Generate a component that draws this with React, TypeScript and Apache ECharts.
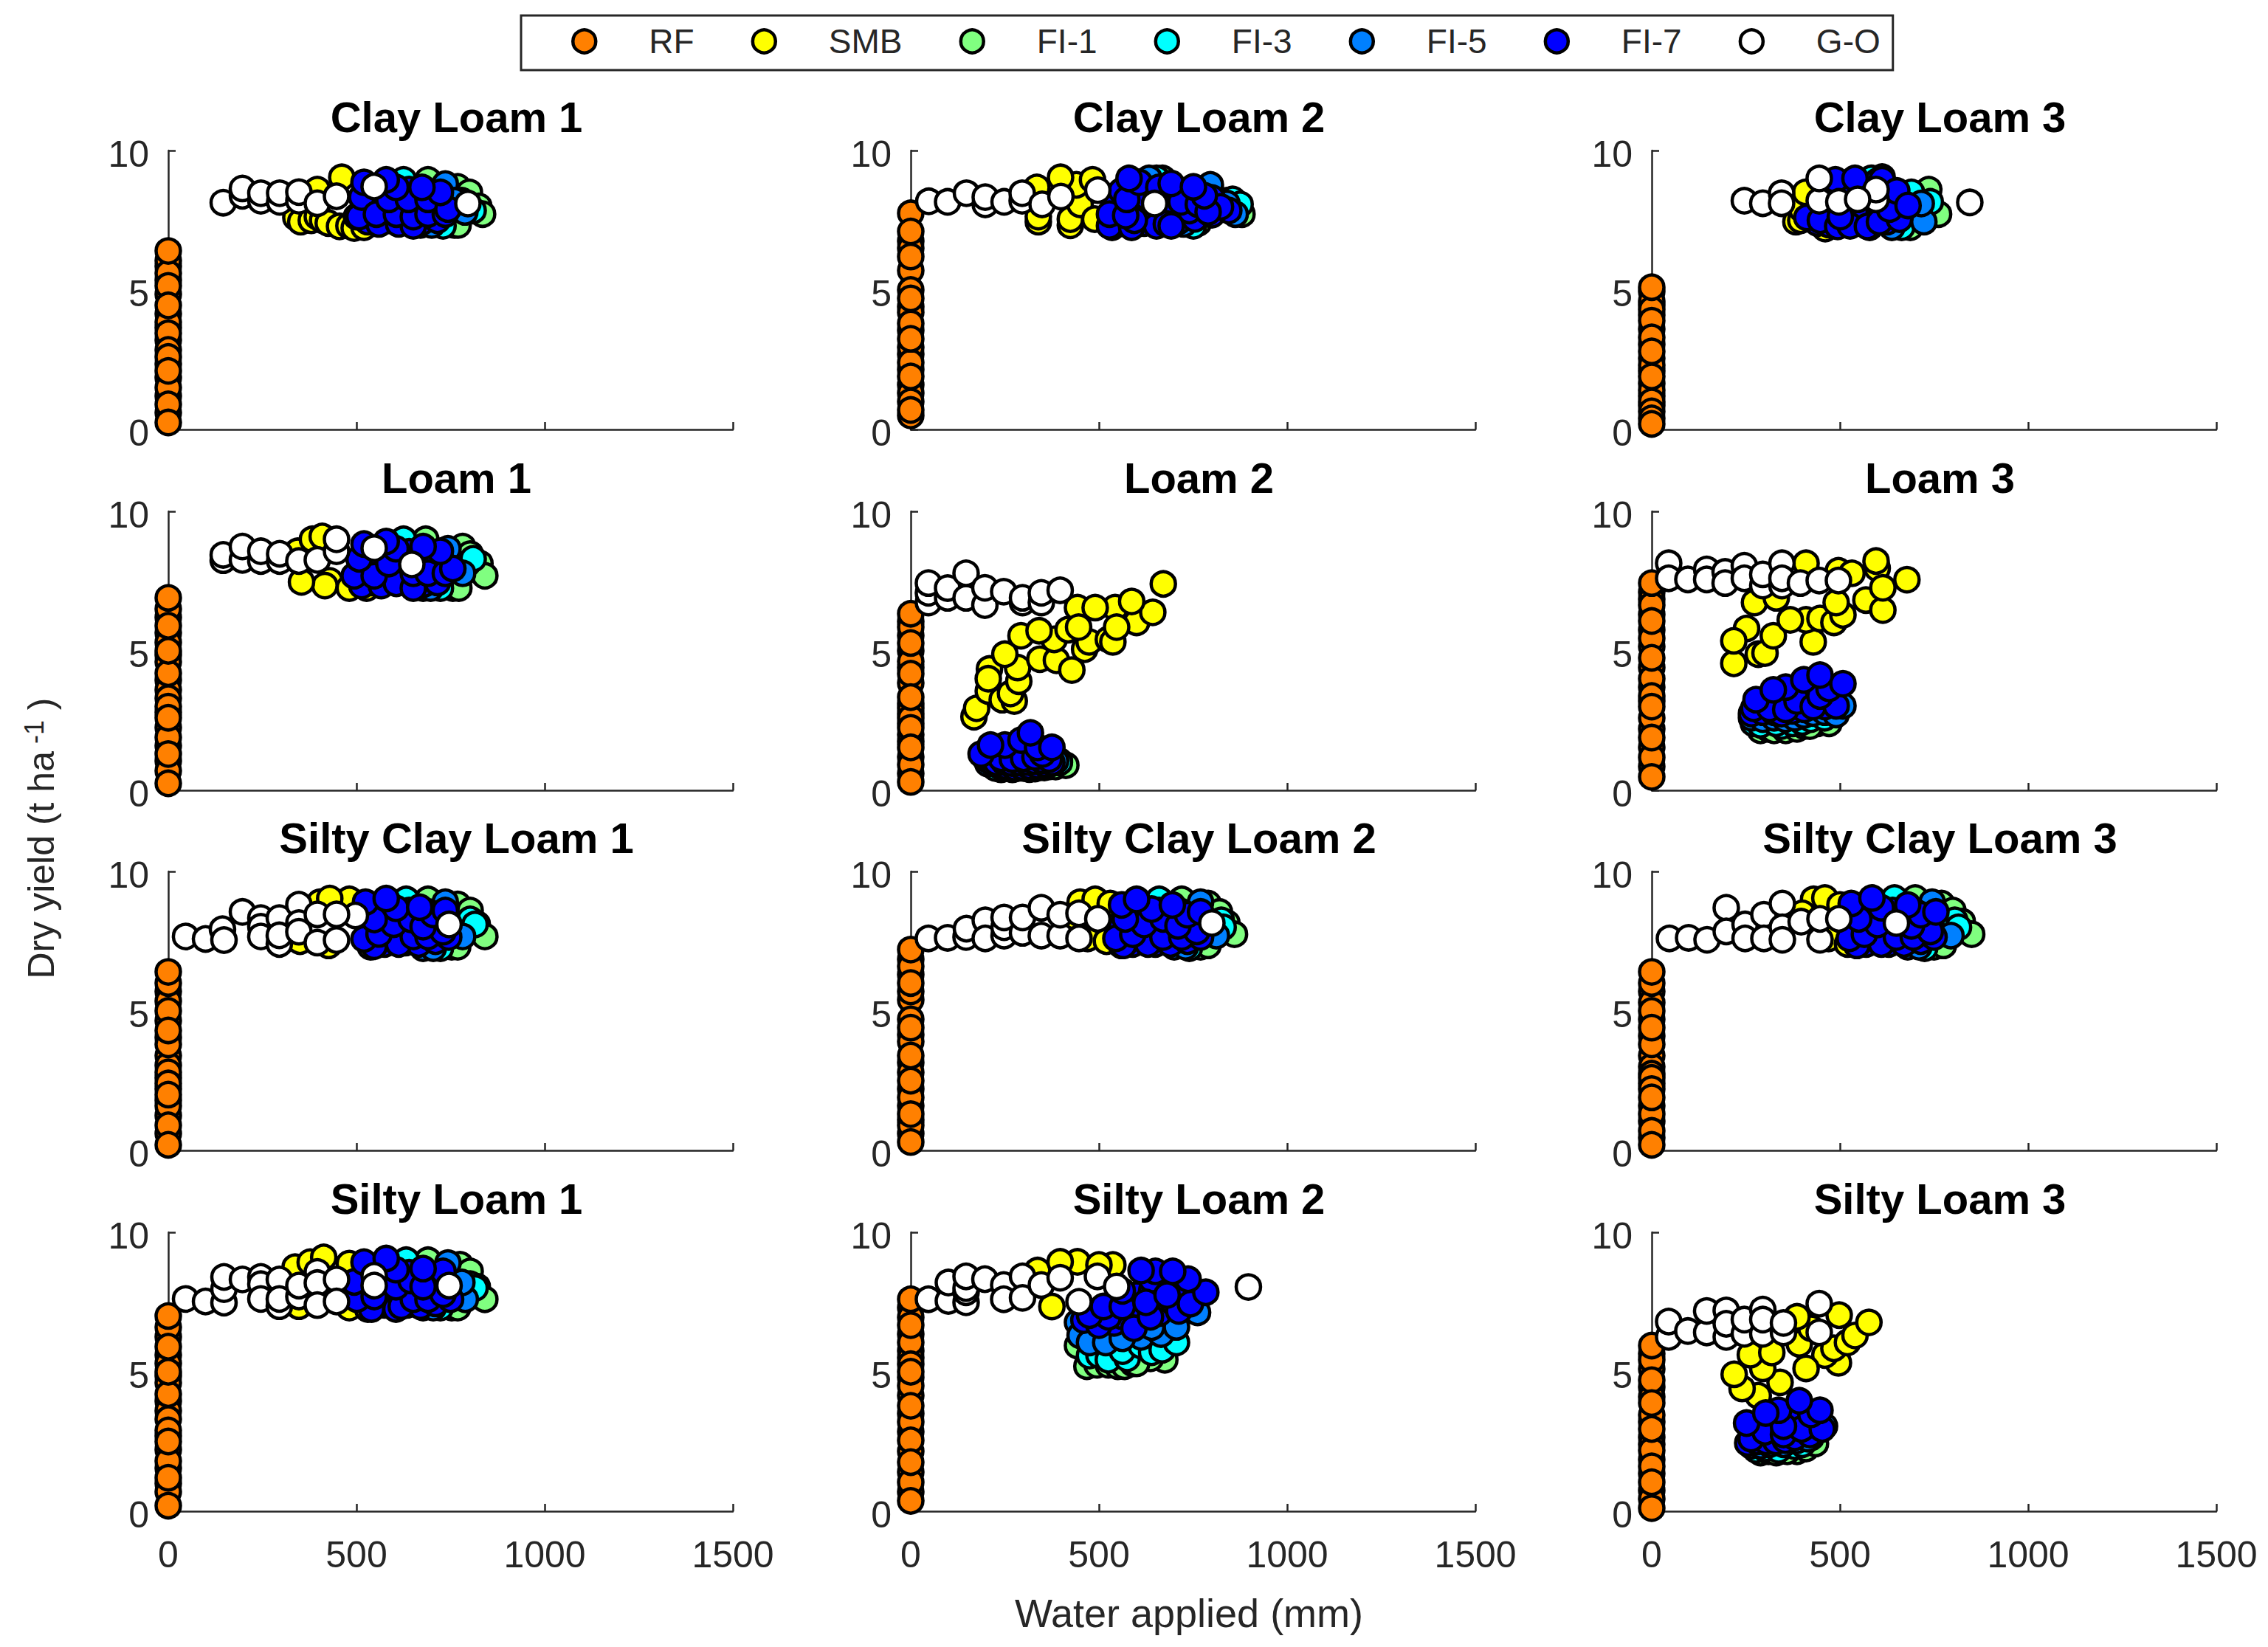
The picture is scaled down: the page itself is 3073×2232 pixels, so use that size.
import React, { useEffect, useRef } from "react";
import * as echarts from "echarts";

type P = number[][];

const seriesNames = ["RF", "SMB", "FI-1", "FI-3", "FI-5", "FI-7", "G-O"];
const seriesColors = ["#ff8000", "#ffff00", "#80ff80", "#00ffff", "#0080ff", "#0000ff", "#ffffff"];
const panelTitles = [
  "Clay Loam 1", "Clay Loam 2", "Clay Loam 3",
  "Loam 1", "Loam 2", "Loam 3",
  "Silty Clay Loam 1", "Silty Clay Loam 2", "Silty Clay Loam 3",
  "Silty Loam 1", "Silty Loam 2", "Silty Loam 3",
];
const xTicks = [0, 500, 1000, 1500];
const yTicks = [0, 5, 10];

// Clay Loam 1
const cl1_rf = [5.85, 5.35, 4.85, 4.15, 3.65, 3.2, 2.35, 1.85, 1.2, 0.6, 6.05, 5.6, 3.85, 3.45, 2.85, 2.6, 1.5, 0.9, 6.4, 5.15, 4.45, 2.1, 0.25];
const cl1_smb: P = [[339, 7.6], [352, 7.45], [380, 7.5], [396, 7.63], [396, 8.6], [410, 7.5], [425, 7.4], [455, 7.28], [480, 7.3], [494, 7.22], [461, 9.04], [520, 7.25]];
const cl1_fi1: P = [[690, 8.95], [769, 8.7], [800, 8.5], [825, 8.0], [760, 7.33], [770, 7.33], [700, 7.5], [835, 7.72]];
const cl1_fi3: P = [[625, 8.95], [730, 7.3], [780, 8.2], [810, 7.85], [660, 7.5]];
const cl1_fi5: P = [[736, 8.8], [788, 7.8], [670, 7.33], [700, 7.33], [620, 7.6], [760, 8.2]];
const cl1_fi7: P = [[530, 7.45], [585, 7.5], [630, 7.45], [675, 7.45], [715, 7.5], [535, 8.05], [570, 7.95], [620, 8.0], [665, 7.95], [710, 7.95], [550, 8.55], [640, 8.6], [690, 8.45], [500, 7.63], [560, 7.37], [612, 7.37], [651, 7.3], [507, 7.63], [514, 8.33], [553, 7.72], [606, 7.72], [651, 7.63], [690, 7.72], [736, 7.72], [586, 8.25], [638, 8.25], [690, 8.25], [743, 7.9], [520, 8.86], [605, 8.68], [723, 8.5], [579, 8.95], [674, 8.68]];
const cl1_go: P = [[146, 8.13], [197, 8.38], [197, 8.64], [246, 8.2], [246, 8.47], [296, 8.16], [296, 8.47], [347, 8.2], [347, 8.51], [396, 8.11], [447, 8.36], [547, 8.71], [796, 8.1]];

// Clay Loam 2
const cl2_rf = [6.75, 6.5, 5.7, 4.4, 4.2, 3.55, 2.7, 2.15, 1.6, 1.3, 7.75, 7.1, 5.0, 4.7, 3.8, 2.95, 2.4, 1.0, 0.5, 6.2, 3.25, 1.9, 0.7];
const cl2_smb: P = [[335, 8.68], [339, 7.45], [339, 7.63], [424, 7.32], [424, 7.54], [450, 8.07], [440, 8.77], [489, 7.54], [535, 7.25], [398, 9.04], [483, 8.95]];
const cl2_fi1: P = [[669, 9.0], [880, 7.72], [764, 7.4], [840, 8.2]];
const cl2_fi3: P = [[653, 9.0], [855, 8.25], [875, 8.07], [751, 7.3]];
const cl2_fi5: P = [[633, 9.0], [862, 7.72], [796, 8.77], [725, 7.37], [840, 8.1]];
const cl2_fi7: P = [[555, 7.45], [620, 7.4], [660, 7.5], [710, 7.45], [755, 7.55], [800, 7.7], [620, 7.95], [675, 7.95], [740, 7.85], [540, 8.1], [625, 8.35], [700, 8.5], [800, 8.3], [845, 7.85], [560, 8.55], [528, 7.3], [587, 7.25], [653, 7.3], [679, 7.37], [692, 7.3], [528, 7.72], [594, 7.5], [571, 7.67], [574, 8.25], [718, 8.16], [764, 8.07], [823, 7.98], [790, 7.8], [780, 8.38], [607, 8.86], [659, 8.68], [692, 8.82], [751, 8.7], [580, 9.0]];
const cl2_go: P = [[48, 8.18], [98, 8.16], [148, 8.47], [198, 8.07], [198, 8.33], [248, 8.16], [296, 8.2], [296, 8.47], [349, 8.07], [399, 8.35], [497, 8.58], [648, 8.1]];

// Clay Loam 3
const cl3_rf = [4.95, 4.45, 4.1, 3.6, 3.05, 2.55, 2.1, 1.65, 1.2, 0.85, 4.6, 4.3, 3.9, 3.3, 2.3, 1.4, 1.0, 0.65, 0.4, 5.1, 2.8, 1.9, 0.2];
const cl3_smb: P = [[383, 7.45], [396, 7.5], [399, 7.9], [461, 7.2], [409, 8.5]];
const cl3_fi1: P = [[612, 9.05], [736, 8.6], [687, 7.25], [762, 7.72]];
const cl3_fi3: P = [[583, 9.0], [690, 8.5], [740, 8.16], [664, 7.25]];
const cl3_fi5: P = [[723, 7.45], [716, 8.1], [638, 7.25], [600, 8.9]];
const cl3_fi7: P = [[440, 7.4], [470, 7.35], [520, 7.5], [555, 7.45], [590, 7.6], [625, 7.45], [470, 7.75], [540, 7.8], [610, 7.8], [660, 7.8], [500, 8.4], [560, 8.45], [625, 8.3], [412, 7.6], [448, 7.5], [494, 7.28], [527, 7.3], [501, 7.63], [579, 7.25], [573, 7.28], [605, 7.45], [658, 7.54], [632, 7.9], [488, 8.95], [612, 8.95], [651, 8.55], [681, 8.03], [540, 9.0]];
const cl3_go: P = [[246, 8.2], [295, 8.11], [345, 8.47], [345, 8.11], [445, 8.2], [445, 9.0], [497, 8.16], [596, 8.25], [596, 8.6], [547, 8.25], [845, 8.14]];

// Loam 1
const l1_rf = [6.2, 5.65, 5.3, 4.85, 3.95, 3.6, 2.8, 2.25, 1.6, 1.05, 6.5, 5.9, 4.6, 4.2, 3.3, 3.0, 1.9, 0.7, 6.9, 5.0, 2.6, 1.3, 0.25];
const l1_smb: P = [[344, 8.57], [383, 9.0], [409, 9.1], [429, 7.51], [416, 7.34], [481, 7.25], [527, 7.25], [354, 7.47]];
const l1_fi1: P = [[684, 9.0], [782, 8.74], [802, 8.47], [828, 8.13], [756, 7.25], [772, 7.25], [841, 7.69]];
const l1_fi3: P = [[625, 9.0], [795, 8.13], [810, 8.3], [723, 7.25]];
const l1_fi5: P = [[743, 8.66], [782, 7.78], [677, 7.25], [697, 7.25], [640, 7.6]];
const l1_fi7: P = [[540, 7.45], [590, 7.5], [630, 7.45], [680, 7.4], [715, 7.45], [530, 8.0], [565, 7.95], [625, 8.0], [670, 8.0], [715, 8.1], [550, 8.5], [640, 8.55], [700, 8.35], [514, 7.34], [566, 7.34], [606, 7.42], [651, 7.25], [494, 7.69], [547, 7.69], [651, 7.78], [690, 7.78], [736, 7.78], [507, 8.3], [586, 8.13], [756, 7.95], [520, 8.83], [605, 8.66], [723, 8.57], [579, 8.92], [677, 8.74]];
const l1_go: P = [[146, 8.25], [146, 8.44], [197, 8.26], [197, 8.74], [246, 8.22], [246, 8.57], [296, 8.22], [296, 8.48], [347, 8.22], [396, 8.26], [447, 8.57], [447, 9.0], [547, 8.68], [647, 8.1]];

// Loam 2
const l2_rf = [6.05, 5.55, 5.0, 4.4, 3.85, 3.1, 2.75, 2.4, 2.0, 1.75, 1.2, 0.6, 5.85, 4.62, 4.18, 2.94, 2.59, 2.24, 0.92, 6.33, 5.28, 3.34, 1.54, 0.3];
const l2_smb: P = [[168, 2.64], [175, 2.94], [206, 3.56], [209, 4.35], [243, 3.25], [275, 3.2], [265, 3.47], [287, 3.91], [206, 4.0], [284, 4.4], [250, 4.88], [343, 4.7], [387, 4.66], [428, 4.31], [462, 5.06], [474, 5.32], [381, 5.41], [293, 5.54], [341, 5.72], [418, 5.76], [525, 5.41], [537, 5.32], [600, 6.02], [543, 6.55], [443, 6.55], [490, 6.55], [446, 5.85], [547, 5.85], [643, 6.38], [587, 6.77], [671, 7.4]];
const l2_fi1: P = [[240, 0.75], [255, 0.8], [270, 0.75], [285, 0.8], [300, 0.8], [315, 0.76], [330, 0.78], [345, 0.83], [355, 0.82], [370, 0.86], [385, 0.85], [412, 0.9], [395, 1.05], [260, 0.85], [320, 0.9]];
const l2_fi3: P = [[225, 0.8], [240, 0.85], [255, 0.82], [270, 0.88], [285, 0.85], [300, 0.9], [315, 0.85], [330, 0.92], [345, 0.9], [360, 0.92], [372, 0.95], [395, 1.0], [240, 0.95], [300, 1.0], [360, 1.05]];
const l2_fi5: P = [[205, 0.95], [220, 0.98], [235, 0.88], [250, 0.96], [265, 0.9], [280, 0.98], [295, 0.93], [310, 1.0], [325, 0.95], [340, 1.03], [355, 0.98], [370, 1.06], [385, 1.05], [215, 1.1], [280, 1.05], [340, 1.1]];
const l2_fi7: P = [[205, 1.1], [215, 1.0], [235, 0.92], [255, 0.85], [275, 0.82], [295, 0.84], [315, 0.86], [335, 0.9], [355, 0.95], [375, 1.0], [220, 1.25], [260, 1.3], [300, 1.3], [325, 1.4], [195, 1.2], [228, 1.0], [248, 1.02], [268, 0.98], [288, 1.0], [308, 1.02], [328, 1.05], [348, 1.08], [368, 1.12], [240, 1.15], [270, 1.12], [300, 1.15], [330, 1.2], [187, 1.3], [350, 1.3], [250, 1.62], [293, 1.8], [337, 1.54], [375, 1.54], [212, 1.62], [318, 2.06]];
const l2_go: P = [[47, 6.73], [47, 7.08], [47, 7.43], [98, 6.9], [98, 7.25], [147, 6.9], [147, 7.78], [197, 6.64], [197, 7.26], [247, 7.12], [297, 6.73], [297, 6.9], [347, 6.73], [347, 7.08], [397, 7.17]];

// Loam 3
const l3_rf = [7.1, 6.85, 6.3, 5.75, 5.15, 4.4, 3.7, 3.2, 2.2, 1.55, 0.85, 6.64, 5.45, 4.0, 3.38, 2.59, 1.18, 7.43, 6.07, 4.75, 3.0, 1.89, 0.48];
const l3_smb: P = [[218, 4.55], [283, 4.88], [301, 4.92], [252, 5.8], [218, 5.36], [323, 5.54], [429, 5.32], [273, 6.73], [331, 6.9], [410, 8.14], [496, 7.87], [532, 7.78], [410, 6.11], [447, 6.16], [484, 6.02], [368, 6.11], [508, 6.29], [490, 6.73], [569, 6.82], [614, 6.46], [599, 7.96], [596, 8.22], [614, 7.26], [678, 7.55]];
const l3_fi1: P = [[289, 2.15], [310, 2.2], [325, 2.15], [356, 2.15], [386, 2.2], [405, 2.3], [441, 2.4], [471, 2.4], [420, 2.3]];
const l3_fi3: P = [[270, 2.4], [289, 2.35], [344, 2.3], [374, 2.4], [400, 2.45], [423, 2.55], [459, 2.6], [330, 2.4]];
const l3_fi5: P = [[265, 2.6], [295, 2.55], [325, 2.6], [355, 2.55], [380, 2.6], [405, 2.7], [429, 2.77], [460, 2.8], [490, 2.72], [508, 3.03]];
const l3_fi7: P = [[265, 2.75], [295, 2.8], [325, 2.8], [345, 2.75], [375, 2.85], [405, 2.9], [460, 3.0], [300, 3.2], [340, 3.2], [400, 3.4], [271, 2.94], [313, 2.94], [356, 2.9], [386, 3.2], [429, 3.0], [490, 3.03], [277, 3.25], [447, 3.38], [356, 3.7], [404, 3.96], [471, 3.65], [508, 3.82], [447, 4.13], [323, 3.6]];
const l3_go: P = [[45, 8.14], [45, 7.6], [96, 7.56], [146, 7.92], [146, 7.56], [195, 7.83], [195, 7.43], [246, 8.05], [246, 7.6], [295, 7.34], [295, 7.74], [346, 7.34], [346, 8.14], [346, 7.6], [395, 7.43], [445, 7.52], [496, 7.52]];

// Silty Clay Loam 1
const scl1_rf = [5.7, 5.35, 4.65, 4.05, 3.4, 3.05, 2.6, 2.2, 1.8, 1.25, 6.0, 5.0, 3.8, 2.8, 2.4, 1.6, 0.6, 6.4, 4.3, 2.0, 0.9, 0.2];
const scl1_smb: P = [[350, 7.5], [403, 8.9], [426, 7.35], [537, 7.3], [481, 9.0], [429, 9.03]];
const scl1_fi1: P = [[690, 9.0], [769, 8.82], [802, 8.6], [821, 8.11], [753, 7.3], [769, 7.3], [841, 7.67]];
const scl1_fi3: P = [[632, 9.0], [802, 8.28], [815, 8.1], [723, 7.25]];
const scl1_fi5: P = [[736, 8.9], [782, 7.67], [677, 7.25], [704, 7.25], [640, 7.5]];
const scl1_fi7: P = [[575, 7.4], [630, 7.45], [665, 7.4], [710, 7.5], [745, 7.65], [535, 7.95], [585, 7.9], [630, 7.95], [665, 7.85], [715, 8.1], [560, 8.6], [640, 8.6], [690, 8.55], [547, 7.32], [612, 7.4], [520, 7.58], [560, 7.76], [651, 7.67], [690, 7.67], [730, 7.84], [599, 8.11], [547, 8.28], [645, 8.28], [677, 8.02], [704, 8.46], [736, 8.6], [524, 8.9], [605, 8.68], [668, 8.72], [579, 9.03]];
const scl1_go: P = [[46, 7.67], [99, 7.58], [144, 7.93], [148, 7.54], [197, 8.55], [246, 8.33], [246, 8.02], [246, 7.67], [295, 7.4], [295, 8.33], [295, 7.71], [347, 8.81], [347, 8.15], [347, 7.84], [396, 7.45], [396, 8.46], [497, 8.42], [447, 7.54], [447, 8.46], [746, 8.1]];

// Silty Clay Loam 2
const scl2_rf = [6.85, 6.3, 5.4, 4.7, 4.15, 3.15, 2.8, 2.2, 1.6, 1.1, 0.6, 6.6, 5.7, 3.9, 3.4, 1.9, 0.9, 7.2, 6.0, 4.4, 2.5, 1.3, 0.3];
const scl2_smb: P = [[430, 8.4], [450, 8.9], [470, 7.6], [520, 7.5], [560, 7.35], [490, 9.0], [530, 8.85]];
const scl2_fi1: P = [[720, 9.0], [790, 8.85], [820, 8.55], [840, 8.15], [770, 7.3], [790, 7.35], [860, 7.75]];
const scl2_fi3: P = [[660, 9.0], [825, 8.25], [830, 8.0], [740, 7.25]];
const scl2_fi5: P = [[770, 8.9], [812, 7.7], [700, 7.3], [730, 7.3], [660, 7.5]];
const scl2_fi7: P = [[590, 7.4], [650, 7.4], [690, 7.4], [735, 7.5], [770, 7.65], [560, 8.0], [610, 7.9], [650, 7.95], [690, 7.85], [740, 8.1], [590, 8.6], [660, 8.6], [720, 8.55], [565, 7.35], [630, 7.4], [545, 7.6], [590, 7.75], [670, 7.65], [720, 7.65], [760, 7.85], [620, 8.1], [570, 8.3], [670, 8.3], [710, 8.05], [735, 8.45], [770, 8.55], [560, 8.8], [640, 8.65], [695, 8.8], [600, 9.0]];
const scl2_go: P = [[47, 7.6], [98, 7.62], [147, 7.65], [148, 7.95], [198, 8.25], [198, 7.6], [248, 7.7], [248, 8.0], [248, 8.35], [297, 7.8], [297, 8.35], [347, 7.7], [347, 8.7], [397, 7.7], [397, 8.45], [447, 7.6], [447, 8.5], [497, 8.3], [800, 8.15]];

// Silty Clay Loam 3
const scl3_rf = [5.7, 5.3, 4.7, 4.1, 3.4, 3.0, 2.75, 2.4, 1.6, 1.05, 0.45, 6.0, 5.0, 3.8, 2.6, 2.2, 1.3, 0.7, 6.4, 4.4, 1.9, 0.2];
const scl3_smb: P = [[430, 9.0], [460, 9.05], [470, 7.6], [520, 7.4], [400, 8.5], [500, 8.8]];
const scl3_fi1: P = [[700, 9.05], [770, 8.85], [800, 8.6], [825, 8.2], [750, 7.3], [775, 7.35], [850, 7.75]];
const scl3_fi3: P = [[645, 9.05], [805, 8.25], [815, 8.0], [725, 7.25]];
const scl3_fi5: P = [[745, 8.9], [795, 7.7], [680, 7.3], [710, 7.3], [635, 7.5]];
const scl3_fi7: P = [[570, 7.4], [630, 7.4], [670, 7.4], [715, 7.5], [750, 7.65], [545, 8.0], [590, 7.9], [630, 7.95], [670, 7.85], [720, 8.1], [570, 8.6], [640, 8.6], [700, 8.55], [545, 7.35], [610, 7.4], [525, 7.6], [565, 7.75], [650, 7.65], [695, 7.65], [740, 7.85], [600, 8.1], [550, 8.3], [650, 8.3], [690, 8.05], [715, 8.45], [755, 8.55], [530, 8.85], [610, 8.7], [680, 8.8], [585, 9.05]];
const scl3_go: P = [[47, 7.6], [98, 7.62], [147, 7.55], [198, 8.7], [198, 7.85], [248, 8.1], [248, 7.6], [298, 8.45], [298, 7.6], [347, 8.85], [347, 8.0], [347, 7.55], [397, 8.2], [447, 7.55], [447, 8.3], [497, 8.3], [650, 8.15]];

// Silty Loam 1
const sl1_rf = [6.25, 5.6, 5.3, 4.85, 3.95, 3.6, 2.7, 2.2, 1.55, 1.0, 6.6, 5.9, 4.6, 4.2, 3.3, 2.9, 1.8, 0.7, 7.0, 5.0, 2.5, 1.2, 0.2];
const sl1_smb: P = [[347, 7.35], [337, 8.75], [377, 8.93], [481, 8.88], [481, 7.3], [530, 7.25], [413, 9.1]];
const sl1_fi1: P = [[690, 9.0], [775, 8.84], [802, 8.6], [821, 8.05], [753, 7.3], [769, 7.3], [841, 7.6]];
const sl1_fi3: P = [[632, 9.0], [802, 8.14], [815, 8.0], [723, 7.3]];
const sl1_fi5: P = [[743, 8.9], [789, 7.6], [677, 7.3], [704, 7.3], [780, 8.2]];
const sl1_fi7: P = [[575, 7.4], [635, 7.4], [670, 7.35], [710, 7.45], [750, 7.6], [530, 8.0], [585, 7.9], [630, 7.95], [665, 7.85], [715, 8.05], [555, 8.55], [640, 8.55], [700, 8.4], [540, 7.25], [605, 7.25], [619, 7.35], [501, 7.6], [547, 7.7], [651, 7.6], [690, 7.6], [730, 7.78], [494, 8.22], [605, 8.05], [645, 8.27], [677, 8.05], [730, 8.6], [520, 8.93], [605, 8.66], [677, 8.7], [579, 9.06]];
const sl1_go: P = [[46, 7.61], [99, 7.52], [148, 7.48], [148, 7.96], [148, 8.4], [197, 8.31], [246, 8.4], [246, 8.14], [246, 7.61], [295, 7.35], [295, 8.31], [295, 7.61], [347, 7.7], [347, 8.09], [396, 8.58], [396, 8.18], [396, 7.39], [447, 8.31], [447, 7.52], [547, 8.44], [547, 8.09], [746, 8.09]];

// Silty Loam 2
const sl2_rf = [7.3, 6.95, 6.35, 5.75, 5.5, 4.8, 4.15, 3.5, 2.85, 2.15, 1.4, 0.7, 6.05, 5.27, 4.5, 3.2, 2.54, 1.04, 7.6, 6.67, 5.0, 3.78, 1.76, 0.37];
const sl2_smb: P = [[337, 8.63], [375, 7.34], [537, 8.83], [443, 8.94], [500, 8.83], [397, 8.94]];
const sl2_fi1: P = [[468, 5.2], [495, 5.25], [525, 5.25], [550, 5.2], [568, 5.2], [590, 5.3], [443, 5.94], [675, 5.43], [637, 5.48], [600, 5.3]];
const sl2_fi3: P = [[475, 5.58], [500, 5.6], [525, 5.43], [575, 5.48], [562, 5.74], [612, 5.94], [640, 5.7], [668, 5.79], [706, 6.05]];
const sl2_fi5: P = [[443, 6.77], [450, 6.3], [475, 6.05], [518, 6.05], [612, 6.25], [562, 6.2], [665, 6.35], [706, 6.61], [762, 7.13], [640, 6.6]];
const sl2_fi7: P = [[460, 6.85], [490, 7.05], [540, 6.75], [560, 7.0], [600, 7.0], [660, 7.1], [700, 7.45], [740, 7.8], [600, 7.75], [640, 7.9], [690, 8.1], [640, 8.3], [740, 8.0], [500, 6.67], [593, 6.56], [525, 6.97], [475, 7.03], [637, 6.97], [512, 7.34], [562, 7.34], [625, 7.49], [712, 7.18], [743, 7.44], [681, 7.75], [562, 7.9], [784, 7.85], [737, 8.32], [650, 8.6], [612, 8.63], [696, 8.6]];
const sl2_go: P = [[47, 7.6], [100, 7.54], [100, 8.2], [147, 7.49], [147, 7.85], [147, 8.0], [147, 8.42], [197, 8.32], [247, 8.11], [247, 7.6], [297, 8.42], [297, 7.65], [347, 8.11], [397, 8.37], [447, 7.51], [496, 8.42], [547, 8.06], [897, 8.04]];

// Silty Loam 3
const sl3_rf = [5.65, 5.1, 4.45, 4.1, 3.2, 2.65, 2.4, 1.85, 1.35, 0.75, 0.45, 5.43, 4.7, 3.45, 2.18, 1.61, 5.94, 3.88, 2.95, 1.04, 0.11];
const sl3_smb: P = [[283, 4.14], [240, 4.4], [341, 4.62], [295, 5.12], [219, 4.91], [262, 5.61], [319, 5.69], [496, 5.32], [460, 5.6], [410, 5.12], [392, 6.0], [484, 5.84], [520, 6.05], [540, 6.3], [423, 6.56], [386, 6.97], [498, 7.03], [577, 6.77]];
const sl3_fi1: P = [[289, 2.1], [310, 2.15], [331, 2.1], [386, 2.15], [410, 2.25], [435, 2.43], [360, 2.15]];
const sl3_fi3: P = [[277, 2.2], [300, 2.25], [337, 2.2], [380, 2.33], [400, 2.4], [423, 2.64]];
const sl3_fi5: P = [[264, 2.35], [290, 2.35], [313, 2.4], [350, 2.4], [386, 2.54], [415, 2.6], [459, 3.05]];
const sl3_fi7: P = [[255, 2.45], [280, 2.5], [305, 2.5], [330, 2.5], [355, 2.55], [380, 2.65], [420, 2.75], [275, 3.0], [310, 3.1], [375, 3.2], [420, 3.1], [264, 2.6], [301, 2.85], [350, 2.75], [398, 2.95], [453, 2.95], [252, 3.16], [350, 3.05], [423, 3.47], [337, 3.62], [447, 3.62], [392, 3.96], [303, 3.52]];
const sl3_go: P = [[45, 6.25], [45, 6.8], [96, 6.46], [146, 6.41], [146, 7.18], [198, 7.2], [198, 6.25], [198, 6.72], [246, 6.36], [246, 6.87], [295, 6.36], [295, 7.23], [295, 6.87], [350, 6.41], [350, 6.75], [445, 7.44], [445, 6.41]];

const panelData: { rf: number[]; rest: P[] }[] = [
  { rf: cl1_rf, rest: [cl1_smb, cl1_fi1, cl1_fi3, cl1_fi5, cl1_fi7, cl1_go] },
  { rf: cl2_rf, rest: [cl2_smb, cl2_fi1, cl2_fi3, cl2_fi5, cl2_fi7, cl2_go] },
  { rf: cl3_rf, rest: [cl3_smb, cl3_fi1, cl3_fi3, cl3_fi5, cl3_fi7, cl3_go] },
  { rf: l1_rf, rest: [l1_smb, l1_fi1, l1_fi3, l1_fi5, l1_fi7, l1_go] },
  { rf: l2_rf, rest: [l2_smb, l2_fi1, l2_fi3, l2_fi5, l2_fi7, l2_go] },
  { rf: l3_rf, rest: [l3_smb, l3_fi1, l3_fi3, l3_fi5, l3_fi7, l3_go] },
  { rf: scl1_rf, rest: [scl1_smb, scl1_fi1, scl1_fi3, scl1_fi5, scl1_fi7, scl1_go] },
  { rf: scl2_rf, rest: [scl2_smb, scl2_fi1, scl2_fi3, scl2_fi5, scl2_fi7, scl2_go] },
  { rf: scl3_rf, rest: [scl3_smb, scl3_fi1, scl3_fi3, scl3_fi5, scl3_fi7, scl3_go] },
  { rf: sl1_rf, rest: [sl1_smb, sl1_fi1, sl1_fi3, sl1_fi5, sl1_fi7, sl1_go] },
  { rf: sl2_rf, rest: [sl2_smb, sl2_fi1, sl2_fi3, sl2_fi5, sl2_fi7, sl2_go] },
  { rf: sl3_rf, rest: [sl3_smb, sl3_fi1, sl3_fi3, sl3_fi5, sl3_fi7, sl3_go] },
];

const FONT = "Liberation Sans";
const INK = "#262626";
const colLefts = [228, 1234, 2238];
const rowTops = [204, 693, 1181, 1670];
const plotW = 765;
const plotH = 378;

function buildOption() {
  const grid: any[] = [];
  const xAxis: any[] = [];
  const yAxis: any[] = [];
  const title: any[] = [];
  const series: any[] = [];
  panelData.forEach((panel, i) => {
    const col = i % 3;
    const row = Math.floor(i / 3);
    const left = colLefts[col];
    const top = rowTops[row];
    grid.push({ left, top, width: plotW, height: plotH });
    const axisBase = {
      type: "value",
      gridIndex: i,
      min: 0,
      splitLine: { show: false },
      axisLine: { show: true, onZero: false, lineStyle: { color: INK, width: 2.5 } },
      axisTick: { show: true, inside: true, length: 10, lineStyle: { color: INK, width: 2.5 } },
    };
    xAxis.push({
      ...axisBase,
      max: xTicks[xTicks.length - 1],
      interval: xTicks[1] - xTicks[0],
      axisLabel: {
        show: row === 3,
        margin: 34,
        color: INK,
        fontFamily: FONT,
        fontSize: 50,
        formatter: (v: number) => String(v),
      },
    });
    yAxis.push({
      ...axisBase,
      max: yTicks[yTicks.length - 1],
      interval: yTicks[1] - yTicks[0],
      axisLabel: {
        margin: 26,
        color: INK,
        fontFamily: FONT,
        fontSize: 50,
        formatter: (v: number) => "{v|" + v + "}",
        rich: { v: { fontFamily: FONT, fontSize: 50, color: INK, padding: [10, 0, 0, 0] } },
      },
    });
    title.push({
      text: panelTitles[i],
      left: left + plotW / 2 + 3,
      top: top - 51,
      textAlign: "center",
      textVerticalAlign: "middle",
      textStyle: { fontFamily: FONT, fontWeight: "bold", fontSize: 58, color: "#000" },
    });
    const lists: P[] = [panel.rf.map((y) => [0, y]), ...panel.rest];
    lists.forEach((data, s) => {
      series.push({
        type: "scatter",
        name: seriesNames[s],
        xAxisIndex: i,
        yAxisIndex: i,
        data,
        symbol: "circle",
        symbolSize: 33,
        clip: false,
        silent: true,
        itemStyle: { color: seriesColors[s], borderColor: "#000", borderWidth: 4.5, opacity: 1 },
      });
    });
  });
  return {
    animation: false,
    backgroundColor: "#ffffff",
    grid,
    xAxis,
    yAxis,
    title,
    series,
    legend: {
      data: seriesNames,
      left: 706,
      top: 21,
      orient: "horizontal",
      selectedMode: false,
      icon: "circle",
      itemWidth: 31,
      itemHeight: 31,
      itemGap: 77,
      padding: [12, 17, 16, 68],
      borderColor: INK,
      borderWidth: 3,
      itemStyle: { borderColor: "#000", borderWidth: 4.5 },
      textStyle: { fontFamily: FONT, fontSize: 46, color: INK, padding: [10, 0, 0, 67] },
    },
    graphic: [
      {
        type: "text",
        x: 56,
        y: 1136,
        rotation: Math.PI / 2,
        style: {
          text: "{a|Dry yield (t ha}{b| -1}{a| )}",
          align: "center",
          verticalAlign: "middle",
          rich: {
            a: { fontFamily: FONT, fontSize: 50, fill: INK, color: INK },
            b: { fontFamily: FONT, fontSize: 36, fill: INK, color: INK, padding: [0, 0, 20, 0] },
          },
        },
      },
      {
        type: "text",
        x: 1611,
        y: 2186,
        style: {
          text: "Water applied (mm)",
          align: "center",
          verticalAlign: "middle",
          fontFamily: FONT,
          fontSize: 54,
          fill: INK,
        },
      },
    ],
  };
}

export default function App() {
  const ref = useRef<HTMLDivElement>(null);
  useEffect(() => {
    document.body.style.margin = "0";
    const chart = echarts.init(ref.current!, undefined, { renderer: "svg" });
    chart.setOption(buildOption());
    return () => chart.dispose();
  }, []);
  return <div ref={ref} style={{ width: 3073, height: 2232 }} />;
}
